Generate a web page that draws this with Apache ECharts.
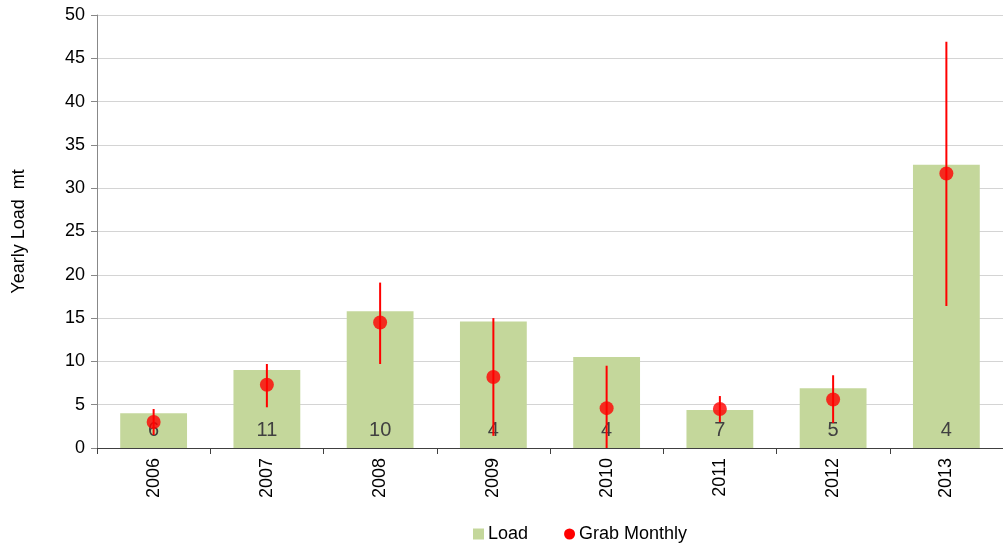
<!DOCTYPE html>
<html>
<head>
<meta charset="utf-8">
<script src="https://cdn.jsdelivr.net/npm/echarts@6/dist/echarts.min.js"></script>
<style>html,body{margin:0;padding:0;background:#fff}#c{width:1003px;height:546px}</style>
</head>
<body>
<div id="c"></div>
<script>
const years = ['2006','2007','2008','2009','2010','2011','2012','2013'];
const load = [4.0, 9.0, 15.8, 14.6, 10.5, 4.4, 6.9, 32.7];
const counts = [6, 11, 10, 4, 4, 7, 5, 4];
const grab = [3.0, 7.3, 14.5, 8.2, 4.6, 4.5, 5.6, 31.7];
const grabHigh = [4.5, 9.7, 19.1, 15.0, 9.5, 6.0, 8.4, 46.9];
const grabLow = [1.5, 4.7, 9.7, 1.4, 0.0, 3.0, 2.9, 16.4];

const chart = echarts.init(document.getElementById('c'));
const font = 'Liberation Sans, Arial, sans-serif';
chart.setOption({
  animation: false,
  textStyle: {fontFamily: font},
  grid: {left: 97, right: 0, top: 15, bottom: 98},
  legend: {
    bottom: -2, left: 468, itemGap: 36, itemWidth: 11, itemHeight: 11,
    textStyle: {fontSize: 18, color: '#000', fontFamily: font, padding: [0, 0, 0, -1]},
    data: [{name: 'Load', icon: 'rect'}, {name: 'Grab Monthly', icon: 'circle'}]
  },
  xAxis: {
    type: 'category', data: years,
    axisLine: {lineStyle: {color: '#404040', width: 1}},
    axisTick: {show: true, length: 6, lineStyle: {color: '#404040'}},
    axisLabel: {rotate: 90, fontSize: 18, color: '#000', margin: 10, fontFamily: font}
  },
  yAxis: {
    type: 'value', min: 0, max: 50, interval: 5,
    name: 'Yearly Load  mt', nameLocation: 'middle', nameGap: 69, nameRotate: 90,
    nameTextStyle: {fontSize: 18, color: '#000', fontFamily: font},
    axisLine: {show: true, lineStyle: {color: '#888'}},
    axisTick: {show: true, length: 6, lineStyle: {color: '#888'}},
    axisLabel: {fontSize: 18, color: '#000', margin: 12, fontFamily: font},
    splitLine: {lineStyle: {color: '#d4d4d4'}}
  },
  series: [
    {
      name: 'Load', type: 'bar', data: load, barWidth: '59%',
      itemStyle: {color: '#c4d79b'},
      label: {show: true, position: 'insideBottom', distance: 8, fontSize: 20, color: '#404040',
        fontFamily: font, formatter: p => String(counts[p.dataIndex])},
      z: 2
    },
    {
      name: 'Grab Monthly', type: 'custom',
      data: years.map((y, i) => [i, grabLow[i], grabHigh[i]]),
      renderItem: (params, api) => {
        const lo = api.coord([api.value(0), api.value(1)]);
        const hi = api.coord([api.value(0), api.value(2)]);
        return {type: 'line', shape: {x1: lo[0], y1: lo[1], x2: hi[0], y2: hi[1]},
          style: {stroke: '#ff0000', lineWidth: 2}};
      },
      itemStyle: {color: '#ff0000'},
      encode: {x: 0, y: [1, 2]},
      z: 3
    },
    {
      name: 'Grab Monthly', type: 'scatter', data: grab, symbol: 'circle', symbolSize: 14,
      itemStyle: {color: '#ff0000'}, z: 4
    }
  ]
});
</script>
</body>
</html>
